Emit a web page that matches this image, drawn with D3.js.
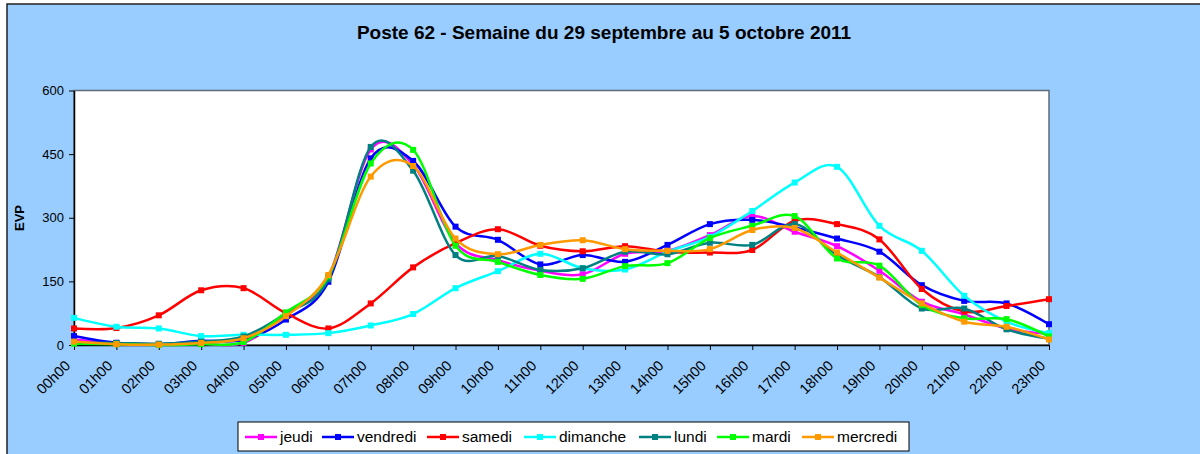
<!DOCTYPE html>
<html>
<head>
<meta charset="utf-8">
<script src="https://cdn.jsdelivr.net/npm/d3@7"></script>
<style>
  html, body { margin: 0; padding: 0; background: #fff; }
  svg { display: block; font-family: "Liberation Sans", Arial, sans-serif; }
</style>
</head>
<body>
<svg id="chart" width="1200" height="454"></svg>
<script>
// hours of the day (categories)
const hours = ["00h00", "01h00", "02h00", "03h00", "04h00", "05h00", "06h00", "07h00",
  "08h00", "09h00", "10h00", "11h00", "12h00", "13h00", "14h00", "15h00",
  "16h00", "17h00", "18h00", "19h00", "20h00", "21h00", "22h00", "23h00"];

// EVP per day
const jeudi    = [13, 5, 2, 3, 5, 72, 160, 461, 425, 240, 200, 175, 167, 215, 222, 259, 304, 267, 233, 175, 102, 72, 39, 26];
const vendredi = [21, 5, 2, 10, 12, 60, 149, 440, 434, 279, 248, 190, 212, 196, 236, 285, 295, 277, 251, 220, 141, 104, 98, 49];
const samedi   = [39, 40, 70, 129, 134, 75, 39, 98, 183, 240, 273, 234, 221, 233, 220, 218, 224, 293, 285, 249, 132, 79, 92, 108];
const dimanche = [64, 43, 39, 21, 24, 24, 28, 46, 73, 134, 174, 215, 181, 178, 220, 255, 316, 383, 420, 281, 222, 116, 55, 28];
const lundi    = [5, 5, 3, 8, 20, 75, 155, 467, 411, 212, 210, 177, 181, 220, 214, 241, 236, 285, 212, 160, 86, 86, 37, 15];
const mardi    = [3, 2, 0, 2, 7, 77, 162, 428, 460, 234, 196, 165, 156, 186, 193, 252, 281, 304, 204, 187, 94, 63, 61, 20];
const mercredi = [8, 2, 1, 5, 16, 68, 165, 397, 422, 251, 214, 236, 247, 226, 222, 226, 271, 276, 218, 159, 98, 55, 43, 13];

const yTicks = [0, 150, 300, 450, 600];

const series = [
  { name: "jeudi", values: jeudi, color: "#ff00ff" },
  { name: "vendredi", values: vendredi, color: "#0000ff" },
  { name: "samedi", values: samedi, color: "#ff0000" },
  { name: "dimanche", values: dimanche, color: "#00ffff" },
  { name: "lundi", values: lundi, color: "#008080" },
  { name: "mardi", values: mardi, color: "#00ff00" },
  { name: "mercredi", values: mercredi, color: "#ff9900" }
];

const plot = { left: 74, right: 1049, top: 90.5, bottom: 345 };

const svg = d3.select("#chart");

// chart area
svg.append("rect")
  .attr("x", 7).attr("y", 4)
  .attr("width", 1210).attr("height", 470)
  .attr("fill", "#99ccff")
  .attr("stroke", "#222").attr("stroke-width", 1.5);

svg.append("text")
  .attr("x", 604).attr("y", 39)
  .attr("text-anchor", "middle")
  .attr("font-size", 19).attr("font-weight", "bold")
  .text("Poste 62 - Semaine du 29 septembre au 5 octobre 2011");

const x = d3.scalePoint().domain(hours).range([plot.left, plot.right]);
const y = d3.scaleLinear().domain([0, 600]).range([plot.bottom, plot.top]);

// plot area
svg.append("rect")
  .attr("x", plot.left).attr("y", plot.top)
  .attr("width", plot.right - plot.left).attr("height", plot.bottom - plot.top)
  .attr("fill", "#fff")
  .attr("stroke", "#5b6b7c").attr("stroke-width", 1.5);

// y axis
const gy = svg.append("g")
  .attr("transform", `translate(${plot.left},0)`)
  .call(d3.axisLeft(y).tickValues(yTicks).tickSizeInner(5).tickSizeOuter(0).tickPadding(5));
gy.select(".domain").attr("stroke", "#000").attr("stroke-width", 1.5);
gy.selectAll(".tick line").attr("stroke", "#000");
gy.selectAll(".tick text").attr("font-size", 13).attr("fill", "#000")
  .attr("font-family", "Liberation Sans, Arial, sans-serif");

svg.append("text")
  .attr("transform", `translate(24,218) rotate(-90)`)
  .attr("text-anchor", "middle")
  .attr("font-size", 13).attr("font-weight", "bold")
  .text("EVP");

// x axis
const gx = svg.append("g")
  .attr("transform", `translate(0,${plot.bottom})`)
  .call(d3.axisBottom(x).tickSizeInner(5).tickSizeOuter(0));
gx.select(".domain").attr("stroke", "#000").attr("stroke-width", 1.5);
gx.selectAll(".tick line").attr("stroke", "#000");
gx.selectAll(".tick text")
  .attr("font-size", 14.5).attr("fill", "#000")
  .attr("font-family", "Liberation Sans, Arial, sans-serif")
  .attr("text-anchor", "end")
  .attr("y", 0).attr("dy", "0.35em")
  .attr("transform", "translate(-7,18) rotate(-45)");

// lines
const line = d3.line()
  .x((d, i) => x(hours[i]))
  .y(d => y(d))
  .curve(d3.curveCatmullRom.alpha(0));

const gLines = svg.append("g");
series.forEach(s => {
  gLines.append("path")
    .attr("d", line(s.values))
    .attr("fill", "none")
    .attr("stroke", s.color)
    .attr("stroke-width", 2.5);
  gLines.selectAll(null)
    .data(s.values)
    .enter().append("rect")
    .attr("x", (d, i) => x(hours[i]) - 3)
    .attr("y", d => y(d) - 3)
    .attr("width", 6).attr("height", 6)
    .attr("fill", s.color);
});

// legend
const legendX = [245, 322, 427, 524, 639, 717, 802];
svg.append("rect")
  .attr("x", 238).attr("y", 422)
  .attr("width", 671).attr("height", 29)
  .attr("fill", "#fff").attr("stroke", "#000").attr("stroke-width", 1);

const gLeg = svg.append("g");
series.forEach((s, i) => {
  const lx = legendX[i];
  gLeg.append("line")
    .attr("x1", lx).attr("x2", lx + 32)
    .attr("y1", 437).attr("y2", 437)
    .attr("stroke", s.color).attr("stroke-width", 2.5);
  gLeg.append("rect")
    .attr("x", lx + 13).attr("y", 434)
    .attr("width", 6).attr("height", 6)
    .attr("fill", s.color);
  gLeg.append("text")
    .attr("x", lx + 35).attr("y", 437)
    .attr("dy", "0.35em")
    .attr("font-size", 15.5)
    .text(s.name);
});
</script>
</body>
</html>
